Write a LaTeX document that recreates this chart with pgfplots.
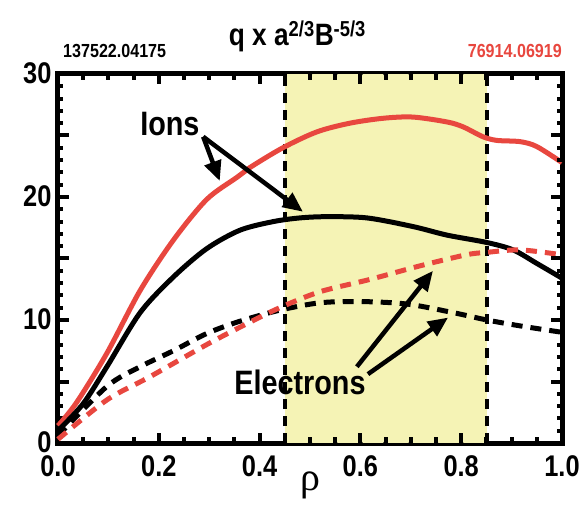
\documentclass[border=0pt]{standalone}
\usepackage{pgfplots}
\pgfplotsset{compat=1.18}
\usepackage{fontspec}
\setmainfont{Liberation Sans}[FakeStretch=0.85]
\newfontfamily\greekfont{Liberation Serif}
\usetikzlibrary{arrows.meta}
\definecolor{myred}{HTML}{E8473F}
\definecolor{myyel}{HTML}{F5F3B5}
\pgfplotsset{tkb/.style={only marks, mark=none, forget plot,
  error bars/error mark=none,
  error bars/error bar style={line width=4bp, draw=black, line cap=butt, solid}}}
\begin{document}
\begin{tikzpicture}
\begin{axis}[
  scale only axis, width=504bp, height=369bp,
  xmin=0, xmax=1, ymin=0, ymax=30,
  axis line style={line width=5bp},
  xtick={0,0.2,0.4,0.6,0.8,1.0},
  xticklabels={0.0,0.2,0.4,0.6,0.8,1.0},
  ytick={0,10,20,30}, yticklabels={0,10,20,30},
  major tick length=0pt, minor tick length=0pt,
  tick label style={font=\fontsize{30}{30}\selectfont\bfseries},
  xticklabel style={yshift=-9bp},
  yticklabel style={xshift=-3bp, yshift=1bp},
  clip=false,
]
% shaded region
\addplot[draw=none, fill=myyel, forget plot] coordinates {(0.45,30) (0.851,30)} \closedcycle;

% tick marks (inside), drawn as one-sided error bars
\addplot[tkb, error bars/y dir=plus, error bars/y explicit] coordinates {
(0.2,0) += (0,0.85) (0.4,0) += (0,0.85) (0.6,0) += (0,0.85) (0.8,0) += (0,0.85)
(0.05,0) += (0,0.45) (0.1,0) += (0,0.45) (0.15,0) += (0,0.45) (0.25,0) += (0,0.45) (0.3,0) += (0,0.45) (0.35,0) += (0,0.45)
(0.45,0) += (0,0.45) (0.5,0) += (0,0.45) (0.55,0) += (0,0.45) (0.65,0) += (0,0.45) (0.7,0) += (0,0.45) (0.75,0) += (0,0.45)
(0.85,0) += (0,0.45) (0.9,0) += (0,0.45) (0.95,0) += (0,0.45)};
\addplot[tkb, error bars/y dir=minus, error bars/y explicit] coordinates {
(0.2,30) -= (0,0.85) (0.4,30) -= (0,0.85) (0.6,30) -= (0,0.85) (0.8,30) -= (0,0.85)
(0.05,30) -= (0,0.45) (0.1,30) -= (0,0.45) (0.15,30) -= (0,0.45) (0.25,30) -= (0,0.45) (0.3,30) -= (0,0.45) (0.35,30) -= (0,0.45)
(0.45,30) -= (0,0.45) (0.5,30) -= (0,0.45) (0.55,30) -= (0,0.45) (0.65,30) -= (0,0.45) (0.7,30) -= (0,0.45) (0.75,30) -= (0,0.45)
(0.85,30) -= (0,0.45) (0.9,30) -= (0,0.45) (0.95,30) -= (0,0.45)};
\addplot[tkb, error bars/x dir=plus, error bars/x explicit] coordinates {
(0,5) += (0.021,0) (0,10) += (0.021,0) (0,15) += (0.021,0) (0,20) += (0.021,0) (0,25) += (0.021,0)
(0,1) += (0.01,0) (0,2) += (0.01,0) (0,3) += (0.01,0) (0,4) += (0.01,0)
(0,6) += (0.01,0) (0,7) += (0.01,0) (0,8) += (0.01,0) (0,9) += (0.01,0)
(0,11) += (0.01,0) (0,12) += (0.01,0) (0,13) += (0.01,0) (0,14) += (0.01,0)
(0,16) += (0.01,0) (0,17) += (0.01,0) (0,18) += (0.01,0) (0,19) += (0.01,0)
(0,21) += (0.01,0) (0,22) += (0.01,0) (0,23) += (0.01,0) (0,24) += (0.01,0)
(0,26) += (0.01,0) (0,27) += (0.01,0) (0,28) += (0.01,0) (0,29) += (0.01,0)};

\addplot[black, line width=4.5bp, dash pattern=on 10bp off 7bp] coordinates {(0.45,0) (0.45,30)};
\addplot[black, line width=4.5bp, dash pattern=on 10bp off 7bp] coordinates {(0.851,0) (0.851,30)};

% red solid (ions, 76914)
\addplot[myred, line width=5bp, smooth] coordinates {
(0,1.4) (0.037,3.3) (0.097,7.3) (0.163,12.4) (0.229,16.5) (0.295,19.8) (0.355,21.6)
(0.381,22.4) (0.446,24.0) (0.514,25.3) (0.579,26.0) (0.645,26.4) (0.704,26.5)
(0.772,26.1) (0.804,25.7) (0.843,24.9) (0.871,24.6) (0.917,24.5) (0.95,24.1) (1.0,22.8)};

% black solid (ions, 137522)
\addplot[black, line width=5bp, smooth] coordinates {
(0,1.0) (0.05,3.2) (0.097,6.2) (0.163,10.6) (0.229,13.5) (0.295,15.8) (0.361,17.3)
(0.427,18.0) (0.48,18.3) (0.533,18.4) (0.613,18.3) (0.704,17.6) (0.772,16.9)
(0.851,16.3) (0.903,15.7) (0.95,14.6) (1.0,13.4)};

% black dashed (electrons, 137522)
\addplot[black, line width=5bp, smooth, dash pattern=on 11bp off 8bp] coordinates {
(0,0.6) (0.097,4.6) (0.163,6.2) (0.229,7.5) (0.295,8.9) (0.361,9.9) (0.44,10.8)
(0.52,11.4) (0.6,11.5) (0.692,11.3) (0.784,10.6) (0.851,10.0) (0.92,9.5) (1.0,9.0)};

% red dashed (electrons, 76914)
\addplot[myred, line width=5bp, smooth, dash pattern=on 11bp off 8bp] coordinates {
(0,0.3) (0.097,3.5) (0.183,5.4) (0.295,8.0) (0.37,9.6) (0.44,11.0) (0.52,12.3)
(0.619,13.3) (0.718,14.4) (0.81,15.3) (0.851,15.5) (0.917,15.7) (1.0,15.3)};

% right-side ticks
\addplot[tkb, error bars/x dir=minus, error bars/x explicit] coordinates {
(1,5) -= (0.021,0) (1,10) -= (0.021,0) (1,15) -= (0.021,0) (1,20) -= (0.021,0) (1,25) -= (0.021,0)
(1,1) -= (0.01,0) (1,2) -= (0.01,0) (1,3) -= (0.01,0) (1,4) -= (0.01,0)
(1,6) -= (0.01,0) (1,7) -= (0.01,0) (1,8) -= (0.01,0) (1,9) -= (0.01,0)
(1,11) -= (0.01,0) (1,12) -= (0.01,0) (1,13) -= (0.01,0) (1,14) -= (0.01,0)
(1,16) -= (0.01,0) (1,17) -= (0.01,0) (1,18) -= (0.01,0) (1,19) -= (0.01,0)
(1,21) -= (0.01,0) (1,22) -= (0.01,0) (1,23) -= (0.01,0) (1,24) -= (0.01,0)
(1,26) -= (0.01,0) (1,27) -= (0.01,0) (1,28) -= (0.01,0) (1,29) -= (0.01,0)};

% annotations
\node[font=\fontsize{34}{34}\selectfont\bfseries] at (axis cs:0.222,25.9) {Ions};
\draw[black, line width=4.5bp, -{Triangle[length=20bp,width=17bp]}] (axis cs:0.288,24.9) -- (axis cs:0.321,21.3);
\draw[black, line width=4.5bp, -{Triangle[length=20bp,width=17bp]}] (axis cs:0.288,24.9) -- (axis cs:0.486,18.8);
\node[font=\fontsize{34}{34}\selectfont\bfseries] at (axis cs:0.48,4.9) {Electrons};
\draw[black, line width=4.5bp, -{Triangle[length=20bp,width=17bp]}] (axis cs:0.593,6.2) -- (axis cs:0.744,14.0);
\draw[black, line width=4.5bp, -{Triangle[length=20bp,width=17bp]}] (axis cs:0.615,5.6) -- (axis cs:0.774,10.2);

% titles
\node[font=\fontsize{31}{31}\selectfont\bfseries, anchor=base] at (rel axis cs:0.475,1.076) {q x a\textsuperscript{2/3}B\textsuperscript{-5/3}};
\node[font=\fontsize{19}{19}\selectfont\bfseries, anchor=base west, inner sep=0pt] at (rel axis cs:0.01,1.046) {137522.04175};
\node[font=\fontsize{19}{19}\selectfont\bfseries, anchor=base east, inner sep=0pt, text=myred] at (rel axis cs:1.0,1.046) {76914.06919};
\node[font=\fontsize{40}{40}\selectfont\greekfont, anchor=base] at (rel axis cs:0.5,-0.13) {ρ};
\end{axis}
\pgfresetboundingbox
\path[use as bounding box] (-58bp,-62bp) rectangle (521bp,443bp);
\end{tikzpicture}
\end{document}
